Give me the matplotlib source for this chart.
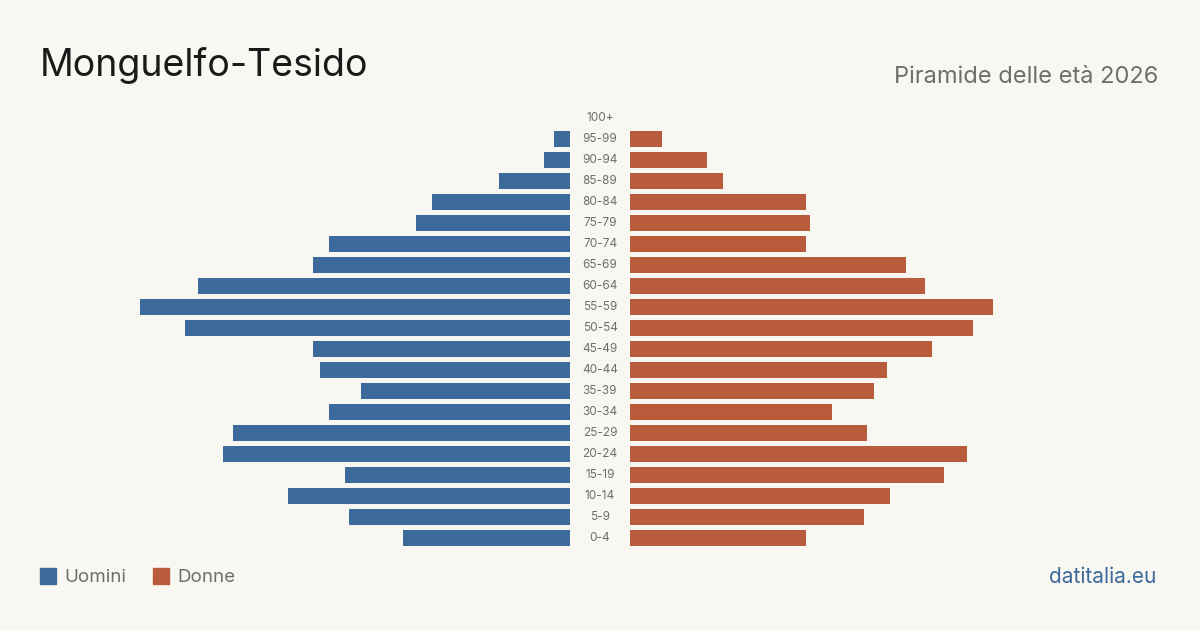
import numpy as np
import matplotlib
matplotlib.use("Agg")
import matplotlib.pyplot as plt
import matplotlib.transforms as mtransforms
from matplotlib.patches import Rectangle

plt.rcParams['font.family'] = ['Inter', 'DejaVu Sans']

# Age classes, bottom to top
ages = ["0-4", "5-9", "10-14", "15-19", "20-24", "25-29", "30-34", "35-39",
        "40-44", "45-49", "50-54", "55-59", "60-64", "65-69", "70-74",
        "75-79", "80-84", "85-89", "90-94", "95-99", "100+"]

# Residents per class
uomini = [52, 69, 88, 70, 108, 105, 75, 65, 78, 80, 120, 134, 116, 80, 75,
          48, 43, 22, 8, 5, 0]
donne = [55, 73, 81, 98, 105, 74, 63, 76, 80, 94, 107, 113, 92, 86, 55,
         56, 55, 29, 24, 10, 0]

bg = "#f9f7f2"
blue = "#3b6a9b"
red = "#b95c3c"
grey = "#6e6e6e"

W, H = 1200, 630
fig = plt.figure(figsize=(12, 6.3), dpi=100, facecolor=bg)

vmax = max(max(uomini), max(donne))
span = 430  # pixels for the largest bar
top_px, bot_px = 107.5, 548.5

def px_axes(x0, x1):
    return fig.add_axes([x0 / W, 1 - bot_px / H, (x1 - x0) / W, (bot_px - top_px) / H])

ax_l = px_axes(570 - span, 570)
ax_r = px_axes(630, 630 + span)

y = np.arange(len(ages))
ax_l.barh(y, uomini, height=0.8, color=blue)
ax_r.barh(y, donne, height=0.8, color=red)

ax_l.set_xlim(vmax, 0)
ax_r.set_xlim(0, vmax)
for ax in (ax_l, ax_r):
    ax.set_ylim(-0.5, len(ages) - 0.5)
    ax.set_facecolor("none")
    ax.axis("off")

# age labels in the central gap
tr = mtransforms.blended_transform_factory(fig.transFigure, ax_l.transData)
for i, a in enumerate(ages):
    fig.text(600 / W, i, a, transform=tr, ha="center", va="center",
             fontsize=8.5, color=grey)

fig.text(40 / W, 1 - 66 / H, "Monguelfo-Tesido", fontsize=27, color="#1a1a1a",
         ha="left", va="center")
fig.text(1158 / W, 1 - 77 / H, "Piramide delle età 2026", fontsize=17,
         color=grey, ha="right", va="center")

# legend
for x0, col, lab in [(40, blue, "Uomini"), (153, red, "Donne")]:
    fig.patches.append(Rectangle((x0 / W, 1 - 584 / H), 16 / W, 16 / H,
                                 transform=fig.transFigure, color=col))
    fig.text((x0 + 24) / W, 1 - 577 / H, lab, fontsize=13.5, color=grey,
             ha="left", va="center")

fig.text(1156 / W, 1 - 577 / H, "datitalia.eu", fontsize=15, color=blue,
         ha="right", va="center")

fig.savefig("out.png", dpi=100, facecolor=bg)
